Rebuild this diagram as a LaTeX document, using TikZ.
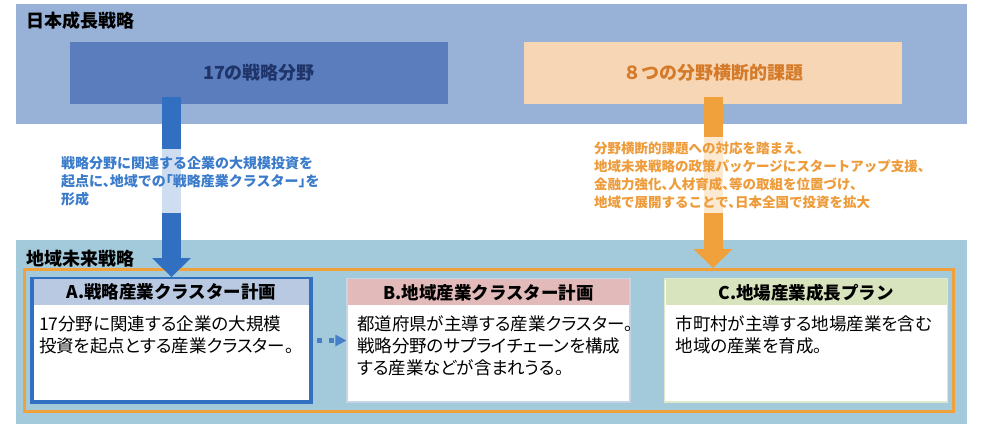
\documentclass[tikz,border=0pt]{standalone}
\usepackage{fontspec}
\setmainfont{Noto Sans CJK JP}
\newfontfamily\notefont{Noto Sans CJK JP}[RawFeature=+halt]
\newfontfamily\propfont{Noto Sans CJK JP}[RawFeature=+palt]
\usetikzlibrary{arrows.meta,positioning}
\definecolor{nationbg}{HTML}{98B1D7}
\definecolor{regionbg}{HTML}{A3CADB}
\definecolor{sectorfill}{HTML}{5B7DBD}
\definecolor{sectortext}{HTML}{1F3468}
\definecolor{crossfill}{HTML}{F6D6B4}
\definecolor{crosstext}{HTML}{D57A28}
\definecolor{blueline}{HTML}{3170C1}
\definecolor{bluenote}{HTML}{3A7BCB}
\definecolor{orangeline}{HTML}{F1A13B}
\definecolor{orangenote}{HTML}{EE9B3A}
\definecolor{hdrA}{HTML}{B9C9E2}
\definecolor{hdrB}{HTML}{E3BABA}
\definecolor{hdrC}{HTML}{D8E4BD}
\definecolor{edgeB}{HTML}{C5D5E8}
\definecolor{edgeC}{HTML}{E0E8CC}
\begin{document}
\begin{tikzpicture}[x=1pt,y=1pt,
    every node/.style={inner sep=0pt},
    bandlabel/.style={anchor=west, font=\fontsize{18}{20}\selectfont\bfseries},
    pillar/.style={minimum width=378, minimum height=62, font=\fontsize{18}{20}\selectfont\bfseries},
    bigarrow/.style={line width=19pt, -{Triangle[width=39pt,length=19pt,line width=0pt]}},
    note/.style={anchor=west, align=left, fill=white, fill opacity=0.77, text opacity=1,
      inner xsep=4pt},
    planbox/.style={fill=white, minimum height=123},
    planhead/.style={anchor=north, minimum height=26, font=\fontsize{17.5}{20}\selectfont\bfseries},
    plantext/.style={anchor=north west, align=left, font=\propfont\fontsize{17.5}{22}\selectfont},
    dotarrow/.style={blueline!90!white, line width=5pt, dash pattern=on 5pt off 7pt, shorten <=4pt,
      -{Triangle[width=12pt,length=11pt,line width=0pt]}}]
  \useasboundingbox (0,0) rectangle (981,-431);
  \fill[nationbg] (16,-4) rectangle (967,-124);
  \fill[regionbg] (16,-240) rectangle (967,-424);
  \node[bandlabel] (nationlbl) at (26,-21) {日本成長戦略};
  \node[bandlabel] (regionlbl) at (26,-258.5) {地域未来戦略};
  \node[pillar, fill=sectorfill, text=sectortext] (sector) at (259,-73) {17の戦略分野};
  \node[pillar, fill=crossfill, text=crosstext] (crosscut) at (713,-73) {８つの分野横断的課題};
  \node[draw=orangeline, line width=3pt, minimum width=929, minimum height=142] (frame) at (489,-340.5) {};
  \node[planbox, draw=blueline, line width=4pt, minimum width=279] (planA) at (171.5,-340.5) {};
  \node[planhead, fill=hdrA, minimum width=275] (headA) at ([yshift=-2]planA.north) {A.戦略産業クラスター計画};
  \node[plantext] (textA) at ([shift={(5,-10)}]headA.south west) {17分野に関連する企業の大規模\\投資を起点とする産業クラスター。};
  \node[planbox, draw=edgeB, line width=1.5pt, minimum width=283] (planB) at (488.5,-340.5) {};
  \node[planhead, fill=hdrB, minimum width=281] (headB) at ([yshift=-1]planB.north) {B.地域産業クラスター計画};
  \node[plantext] (textB) at ([shift={(9,-10)}]headB.south west) {都道府県が主導する産業クラスター。\\戦略分野のサプライチェーンを構成\\する産業などが含まれうる。};
  \node[planbox, draw=edgeC, line width=1.5pt, minimum width=283] (planC) at (806,-340.5) {};
  \node[planhead, fill=hdrC, minimum width=281] (headC) at ([yshift=-1]planC.north) {C.地場産業成長プラン};
  \node[plantext] (textC) at ([shift={(10,-10)}]headC.south west) {市町村が主導する地場産業を含む\\地域の産業を育成。};
  \draw[bigarrow, blueline] ([yshift=7]sector.south -| planA.north) -- (planA.north);
  \draw[bigarrow, orangeline] ([yshift=7]crosscut.south) -- (crosscut.south |- frame.north);
  \node[note, text=bluenote, inner ysep=7pt, font=\notefont\fontsize{14}{18}\selectfont\bfseries] (bluetext) at (57,-181) {戦略分野に関連する企業の大規模投資を\\起点に、地域での「戦略産業クラスター」を\\形成};
  \node[note, text=orangenote, inner ysep=5pt, font=\notefont\fontsize{13.5}{18}\selectfont\bfseries] (orangetext) at (590,-175) {分野横断的課題への対応を踏まえ、\\地域未来戦略の政策パッケージにスタートアップ支援、\\金融力強化、人材育成、等の取組を位置づけ、\\地域で展開することで、日本全国で投資を拡大};
  \draw[dotarrow] (planA.east) -- (planB.west);
\end{tikzpicture}
\end{document}
